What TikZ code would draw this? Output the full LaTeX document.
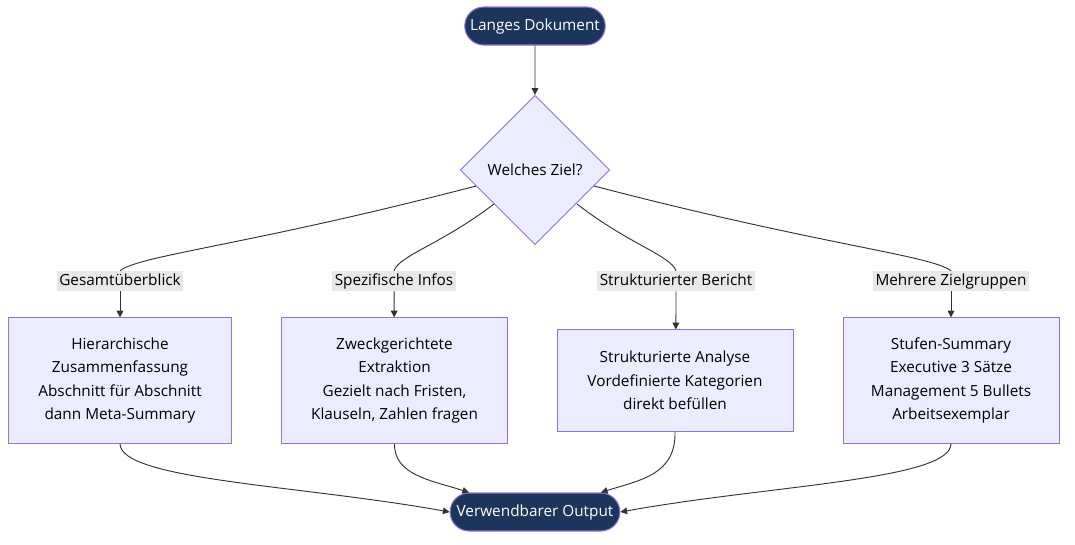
\documentclass[tikz,border=0pt]{standalone}
\usepackage{fontspec}
\setmainfont{Open Sans}
\usetikzlibrary{shapes.geometric,shapes.misc,arrows.meta}
\definecolor{navy}{HTML}{1C355A}
\definecolor{boxfill}{HTML}{ECECFF}
\definecolor{boxline}{HTML}{9370DB}
\definecolor{lblfill}{HTML}{E8E8E8}
\begin{document}
\begin{tikzpicture}[x=0.75pt,y=-0.75pt,font=\fontsize{11.5}{17.5}\selectfont,
    term/.style={rounded rectangle,draw=boxline,fill=navy,text=white,minimum height=28.5pt,line width=0.8pt,text height=8.5pt,text depth=2.5pt},
    proc/.style={rectangle,draw=boxline,fill=boxfill,align=center,line width=0.7pt},
    ask/.style={diamond,draw=boxline,fill=boxfill,minimum size=112pt,inner sep=0pt,line width=0.7pt},
    lbl/.style={fill=lblfill,inner sep=2pt,text height=8.5pt,text depth=2.5pt},
    flow/.style={draw=black!80,line width=0.7pt},
    tip/.style={-{Triangle[length=5pt,width=5pt]}}]
\useasboundingbox (0,0) rectangle (1075,544);
% nodes
\node[term,minimum width=112pt] (start) at (535,26) {Langes Dokument};
\node[ask] (ziel) at (535,170) {Welches Ziel?};
\node[lbl] (l1) at (120,281) {Gesamtüberblick};
\node[lbl] (l2) at (394,281) {Spezifische Infos};
\node[lbl] (l3) at (676,281) {Strukturierter Bericht};
\node[lbl] (l4) at (951,281) {Mehrere Zielgruppen};
\node[proc,minimum width=167pt,minimum height=94pt] (hier) at (120,380.5) {Hierarchische\\Zusammenfassung\\Abschnitt für Abschnitt\\dann Meta-Summary};
\node[proc,minimum width=170pt,minimum height=94pt] (zweck) at (394.5,380.5) {Zweckgerichtete\\Extraktion\\Gezielt nach Fristen,\\Klauseln, Zahlen fragen};
\node[proc,minimum width=177pt,minimum height=76pt] (struk) at (675,380.5) {Strukturierte Analyse\\Vordefinierte Kategorien\\direkt befüllen};
\node[proc,minimum width=162pt,minimum height=94pt] (stufen) at (951,380.5) {Stufen-Summary\\Executive 3 Sätze\\Management 5 Bullets\\Arbeitsexemplar};
\node[term,minimum width=134pt] (out) at (535,512) {Verwendbarer Output};
% connectors
\draw[flow,tip] (start) -- (ziel);
\draw[flow] (476,186) .. controls (250,245) and (140,255) .. (l1.north);
\draw[flow] (494,204) .. controls (440,245) and (400,255) .. (l2.north);
\draw[flow] (577,204) .. controls (630,245) and (670,255) .. (l3.north);
\draw[flow] (594,186) .. controls (820,245) and (930,255) .. (l4.north);
\draw[flow,tip] (l1) -- (hier);
\draw[flow,tip] (l2) -- (zweck);
\draw[flow,tip] (l3) .. controls (676,305) and (676,315) .. (struk);
\draw[flow,tip] (l4) -- (stufen);
\draw[flow,tip] (hier.south) .. controls (120,480) and (300,485) .. (out.west);
\draw[flow,tip] (zweck.south) .. controls (394,475) and (430,480) .. (out.north west);
\draw[flow,tip] (struk.south) .. controls (676,475) and (640,480) .. (out.north east);
\draw[flow,tip] (stufen.south) .. controls (951,480) and (770,485) .. (out.east);
\end{tikzpicture}
\end{document}
